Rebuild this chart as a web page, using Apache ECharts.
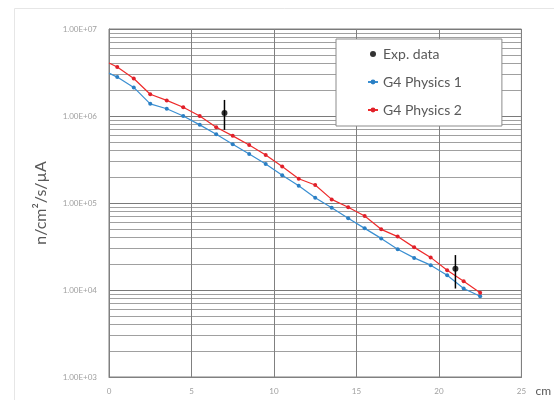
<!DOCTYPE html>
<html>
<head>
<meta charset="utf-8">
<script src="https://cdn.jsdelivr.net/npm/echarts@6/dist/echarts.min.js"></script>
<style>
html,body{margin:0;padding:0;background:#fff;}
#c{width:554px;height:400px;}
</style>
</head>
<body>
<div id="c"></div>
<script>
// Depth positions (cm)
const xPhys = [0, 0.5, 1.5, 2.5, 3.5, 4.5, 5.5, 6.5, 7.5, 8.5, 9.5, 10.5, 11.5, 12.5, 13.5, 14.5, 15.5, 16.5, 17.5, 18.5, 19.5, 20.5, 21.5, 22.5];
// G4 Physics 1 (blue)
const phys1 = [3.11e6, 2.80e6, 2.13e6, 1.38e6, 1.21e6, 1.00e6, 7.91e5, 6.18e5, 4.74e5, 3.65e5, 2.81e5, 2.08e5, 1.58e5, 1.15e5, 8.83e4, 6.67e4, 5.11e4, 3.92e4, 2.94e4, 2.34e4, 1.93e4, 1.48e4, 1.04e4, 8.49e3];
// G4 Physics 2 (red)
const phys2 = [4.06e6, 3.65e6, 2.70e6, 1.78e6, 1.51e6, 1.26e6, 1.00e6, 7.44e5, 5.91e5, 4.65e5, 3.57e5, 2.62e5, 1.90e5, 1.61e5, 1.10e5, 8.92e4, 7.08e4, 4.98e4, 4.11e4, 3.09e4, 2.37e4, 1.69e4, 1.26e4, 9.27e3];
// Experimental data
const expX = [7, 21];
const expY = [1.08e6, 1.76e4];
const expLow = [6.93e5, 1.04e4];
const expHigh = [1.53e6, 2.52e4];
// Axis ticks
const xTicks = [0, 5, 10, 15, 20, 25];
const yTicks = [1e3, 1e4, 1e5, 1e6, 1e7];

function lineData(vals) {
  return vals.map((v, i) => i === 0 ? {value: [xPhys[i], v], symbol: 'none'} : [xPhys[i], v]);
}
function fmtE(v) {
  const e = Math.round(Math.log10(v));
  return '1.00E+' + String(e).padStart(2, '0');
}

const chart = echarts.init(document.getElementById('c'), null, {renderer: 'canvas'});
chart.setOption({
  animation: false,
  backgroundColor: '#fff',
  graphic: [{
    type: 'rect', left: 12, top: 6, z: -10,
    shape: {x: 0, y: 0, width: 620, height: 500},
    style: {fill: 'none', stroke: '#e6e6e6', lineWidth: 1}
  }],
  grid: {left: 109, right: 32, top: 29, bottom: 23, show: true, borderColor: '#808080', borderWidth: 1, containLabel: false},
  legend: {
    orient: 'vertical', left: 336, top: 39,
    backgroundColor: '#fff', borderColor: '#8c8c8c', borderWidth: 1,
    padding: [8, 40, 9, 31], itemGap: 14, itemWidth: 10, itemHeight: 6,
    textStyle: {fontFamily: 'Lato', fontSize: 14, color: '#595959'},
    data: [
      {name: 'Exp. data', icon: 'circle', itemStyle: {color: '#000'}},
      {name: 'G4 Physics 1'},
      {name: 'G4 Physics 2'}
    ]
  },
  xAxis: {
    type: 'value', min: 0, max: 25, interval: 5,
    name: 'cm', nameLocation: 'end', nameGap: 14,
    nameTextStyle: {fontFamily: 'Lato', fontSize: 12, color: '#595959', verticalAlign: 'top', padding: [8, 0, 0, 0]},
    axisLine: {show: true, lineStyle: {color: '#808080', width: 1}},
    axisTick: {show: false},
    axisLabel: {fontFamily: 'Lato', fontSize: 8, color: '#a0a0a0', margin: 10,
      formatter: v => xTicks.includes(v) ? String(v) : ''},
    splitLine: {show: true, lineStyle: {color: '#808080', width: 1}}
  },
  yAxis: {
    type: 'log', logBase: 10, min: yTicks[0], max: yTicks[yTicks.length - 1],
    name: 'n/cm²/s/µA', nameLocation: 'middle', nameGap: 60, nameRotate: 90,
    nameTextStyle: {fontFamily: 'Lato', fontSize: 16, color: '#595959'},
    axisLine: {show: true, lineStyle: {color: '#808080', width: 1}},
    axisTick: {show: false},
    axisLabel: {fontFamily: 'Lato', fontSize: 8, color: '#a0a0a0', margin: 12, formatter: fmtE},
    splitLine: {show: true, lineStyle: {color: '#7a7a7a', width: 1}},
    minorTick: {show: false, splitNumber: 9},
    minorSplitLine: {show: true, lineStyle: {color: '#a0a0a0', width: 1}}
  },
  series: [
    {
      name: 'G4 Physics 1', type: 'line', data: lineData(phys1),
      symbol: 'circle', symbolSize: 4, showSymbol: true,
      lineStyle: {color: '#3a8fd2', width: 1.2}, itemStyle: {color: '#2a7fc4'}, z: 3
    },
    {
      name: 'G4 Physics 2', type: 'line', data: lineData(phys2),
      symbol: 'circle', symbolSize: 4, showSymbol: true,
      lineStyle: {color: '#ee2b2b', width: 1.2}, itemStyle: {color: '#e0202a'}, z: 4
    },
    {
      name: 'errbars', type: 'custom', z: 5,
      data: expX.map((x, i) => [x, expLow[i], expHigh[i]]),
      renderItem: function (params, api) {
        const lo = api.coord([api.value(0), api.value(1)]);
        const hi = api.coord([api.value(0), api.value(2)]);
        return {type: 'line', shape: {x1: lo[0], y1: lo[1], x2: hi[0], y2: hi[1]},
          style: {stroke: '#000', lineWidth: 1.5}};
      }
    },
    {
      name: 'Exp. data', type: 'scatter', z: 6,
      data: expX.map((x, i) => [x, expY[i]]),
      symbol: 'circle', symbolSize: 6, itemStyle: {color: '#000'}
    }
  ]
});
</script>
</body>
</html>
